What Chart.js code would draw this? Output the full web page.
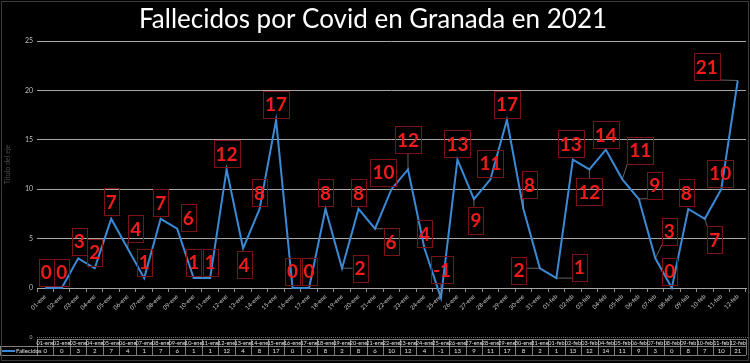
<!DOCTYPE html>
<html><head><meta charset="utf-8">
<script src="https://cdn.jsdelivr.net/npm/chart.js@4.4.1/dist/chart.umd.min.js"></script>
<style>html,body{margin:0;padding:0;background:#000;}#wrap{width:750px;height:363px;position:relative;}canvas{display:block;}</style>
</head><body>
<div id="wrap"><canvas id="c" width="750" height="363"></canvas></div>
<script>
const categories = ['01-ene','02-ene','03-ene','04-ene','05-ene','06-ene','07-ene','08-ene','09-ene','10-ene','11-ene','12-ene','13-ene','14-ene','15-ene','16-ene','17-ene','18-ene','19-ene','20-ene','21-ene','22-ene','23-ene','24-ene','25-ene','26-ene','27-ene','28-ene','29-ene','30-ene','31-ene','01-feb','02-feb','03-feb','04-feb','05-feb','06-feb','07-feb','08-feb','09-feb','10-feb','11-feb','12-feb'];
const fallecidos = [0,0,3,2,7,4,1,7,6,1,1,12,4,8,17,0,0,8,2,8,6,10,12,4,-1,13,9,11,17,8,2,1,13,12,14,11,9,3,0,8,7,10,21];
const yTicks = [0,5,10,15,20,25];
const seriesName = 'Fallecidos';
const titleText = 'Fallecidos por Covid en Granada en 2021';
const yTitle = 'Título del eje';
// label offsets (px) relative to each point
const labelDX = [1,0,1,0,0,8,0,0,11,0,0,0,1,0,0,0,0,0,18,0,16,-8,0,0,1,0,2,0,0,6,-21,23,-2,0,0,18,16,14,-2,-2,10,-1,-31];
const labelDY = [-16,-16,-17,-16,-17,-20,-16,-16,-11,-16,-16,-16,16,-16,-16,-17,-17,-16,0,-16,13,-17,-30,-15,-28,-16,21,-16,-16,-24,2,-11,-16,22,-15,-29,-14,-27,-17,-16,21,-16,-14];

const LINE = '#3a8ad6';
const GRID = '#a6a6a6';

const labelPlugin = {
  id: 'boxLabels',
  afterDatasetsDraw(chart) {
    const ctx = chart.ctx;
    const meta = chart.getDatasetMeta(0);
    ctx.save();
    ctx.font = 'bold 19px Lato';
    ctx.textAlign = 'center';
    ctx.textBaseline = 'middle';
    meta.data.forEach((pt, i) => {
      const txt = String(fallecidos[i]);
      const w = ctx.measureText(txt).width + 4;
      const h = 27;
      const cx = pt.x + labelDX[i], cy = pt.y + labelDY[i];
      const l = cx - w/2, t = cy - h/2;
      // leader line
      const nx = Math.max(l, Math.min(pt.x, l + w));
      const ny = Math.max(t, Math.min(pt.y, t + h));
      const d = Math.hypot(nx - pt.x, ny - pt.y);
      if (d > 5) {
        ctx.strokeStyle = '#8c8c8c';
        ctx.lineWidth = 0.7;
        ctx.beginPath(); ctx.moveTo(nx, ny); ctx.lineTo(pt.x, pt.y); ctx.stroke();
      }
      ctx.strokeStyle = '#7a1414';
      ctx.lineWidth = 1;
      ctx.strokeRect(Math.round(l)+0.5, Math.round(t)+0.5, Math.round(w), h);
      ctx.fillStyle = '#f01c1c';
      ctx.fillText(txt, cx, cy + 1);
    });
    ctx.restore();
  }
};

const tablePlugin = {
  id: 'dataTable',
  afterDraw(chart) {
    const ctx = chart.ctx;
    const xs = chart.scales.x;
    const area = chart.chartArea;
    const step = (area.right - area.left) / categories.length;
    const y0 = 339, y1 = 346, y2 = 355;
    ctx.save();
    ctx.strokeStyle = '#6a6a6a';
    ctx.lineWidth = 1;
    ctx.setLineDash([1,1]);
    ctx.beginPath(); ctx.moveTo(area.left, 337.5); ctx.lineTo(748, 337.5); ctx.stroke();
    ctx.setLineDash([]);
    ctx.fillStyle = '#bbb';
    ctx.font = '5px Lato';
    ctx.textAlign = 'center'; ctx.textBaseline = 'middle';
    ctx.fillText('0', 31, 337);
    ctx.strokeStyle = '#9a9a9a';
    ctx.lineWidth = 0.8;
    ctx.beginPath();
    ctx.moveTo(area.left, y0 + 0.5); ctx.lineTo(area.right, y0 + 0.5);
    ctx.moveTo(0, y1 + 0.5); ctx.lineTo(area.right, y1 + 0.5);
    ctx.moveTo(0, y2 + 0.5); ctx.lineTo(area.right, y2 + 0.5);
    for (let i = 0; i <= categories.length; i++) {
      const x = Math.round(area.left + i * step) + 0.5;
      ctx.moveTo(x, y0); ctx.lineTo(x, y2);
    }
    ctx.moveTo(0.5, y1); ctx.lineTo(0.5, y2);
    ctx.stroke();
    ctx.fillStyle = '#e0e0e0';
    categories.forEach((c, i) => {
      const x = xs.getPixelForValue(i);
      ctx.font = '5.5px Lato';
      ctx.fillText(c, x, (y0 + y1) / 2 + 0.5);
      ctx.font = '6px Lato';
      ctx.fillText(String(fallecidos[i]), x, (y1 + y2) / 2 + 0.5);
    });
    ctx.strokeStyle = LINE; ctx.lineWidth = 2;
    ctx.beginPath(); ctx.moveTo(2, 351); ctx.lineTo(15, 351); ctx.stroke();
    ctx.fillStyle = '#e0e0e0';
    ctx.font = '6px Lato';
    ctx.textAlign = 'left';
    ctx.fillText(seriesName, 16, 351);
    ctx.strokeStyle = '#3c3c3c'; ctx.lineWidth = 1;
    ctx.strokeRect(1.5, 1.5, 747, 359);
    ctx.restore();
  }
};

new Chart(document.getElementById('c'), {
  type: 'line',
  data: {
    labels: categories,
    datasets: [{
      label: seriesName,
      data: fallecidos,
      borderColor: LINE,
      backgroundColor: LINE,
      borderWidth: 2,
      pointRadius: 0,
      tension: 0,
      clip: false
    }]
  },
  options: {
    responsive: false,
    animation: false,
    layout: { padding: { left: 0, right: 4, top: 0, bottom: 0 } },
    plugins: {
      legend: { display: false },
      tooltip: { enabled: false },
      title: {
        display: true,
        text: titleText,
        color: '#ffffff',
        font: { family: 'Lato', size: 26, weight: 'normal', lineHeight: 1.2 },
        padding: { top: 4, bottom: 5.8 }
      }
    },
    scales: {
      x: {
        offset: true,
        grid: { display: true, drawOnChartArea: false, drawTicks: true, tickLength: 4, color: '#8c8c8c', offset: true },
        border: { display: true, color: GRID },
        ticks: { color: '#cfcfcf', font: { family: 'Lato', size: 6 }, maxRotation: 45, minRotation: 45, autoSkip: false, padding: 1 },
        afterFit(s) { s.height = 75; }
      },
      y: {
        min: 0, max: 25,
        afterBuildTicks(s) { s.ticks = yTicks.map(v => ({ value: v })); },
        grid: { color: GRID, drawTicks: false, lineWidth: 1 },
        border: { display: false },
        ticks: { color: '#bfbfbf', font: { family: 'Lato', size: 7 }, padding: 4 },
        title: { display: true, text: yTitle, color: '#4a4a4a', font: { family: 'Lato', size: 7 }, padding: 4 },
        afterFit(s) { s.width = 37; }
      }
    }
  },
  plugins: [labelPlugin, tablePlugin]
});
</script>
</body></html>
